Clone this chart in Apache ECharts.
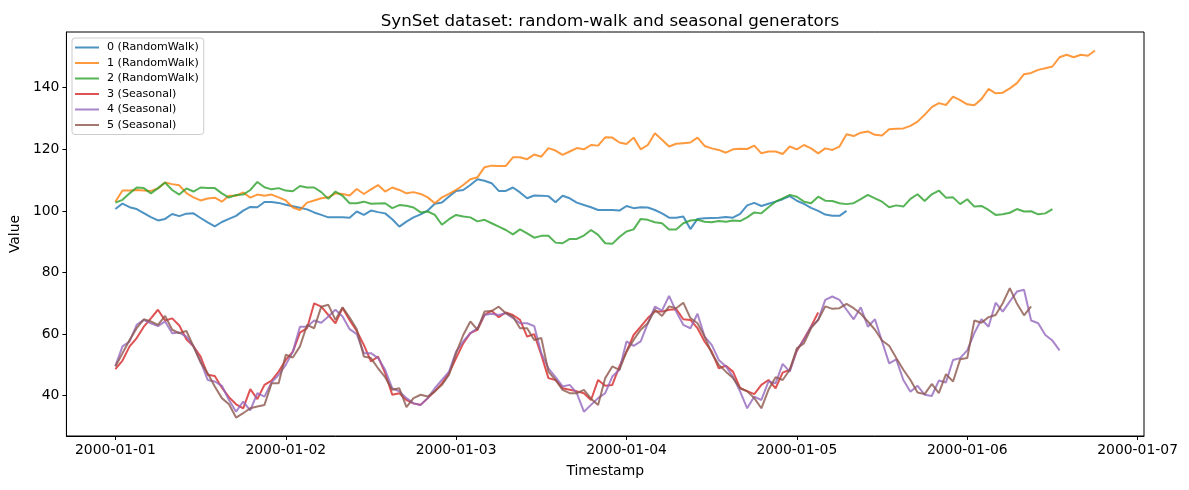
<!DOCTYPE html>
<html>
<head>
<meta charset="utf-8">
<script src="https://cdn.jsdelivr.net/npm/echarts@6/dist/echarts.min.js"></script>
<style>
  html, body { margin: 0; padding: 0; background: #fff; }
  #chart { width: 1189px; height: 490px; }
</style>
</head>
<body>
<div id="chart"></div>
<script>
// ===== Data (hourly samples from 2000-01-01 00:00, x = hour index) =====
const dayTicks = [0, 24, 48, 72, 96, 120, 144];
const dayLabels = ['2000-01-01', '2000-01-02', '2000-01-03', '2000-01-04', '2000-01-05', '2000-01-06', '2000-01-07'];
const yTicks = [40, 60, 80, 100, 120, 140];

const seriesNames = ['0 (RandomWalk)', '1 (RandomWalk)', '2 (RandomWalk)', '3 (Seasonal)', '4 (Seasonal)', '5 (Seasonal)'];
const colors = ['#1f77b4', '#ff7f0e', '#2ca02c', '#d62728', '#9467bd', '#8c564b'];

const walk0 = [100.6,102.4,101.2,100.6,99.3,98.0,96.9,97.4,99.0,98.3,
  99.1,99.2,97.7,96.3,95.0,96.4,97.4,98.4,100.1,101.3,
  101.2,102.9,102.9,102.6,102.0,101.5,101.0,100.5,99.5,98.7,
  97.9,97.9,97.9,97.8,99.8,98.7,100.1,99.6,99.2,97.3,
  94.9,96.5,97.9,98.9,100.1,102.3,102.7,104.7,106.5,106.8,
  108.4,110.3,109.8,109.0,106.5,106.5,107.6,106.0,104.1,105.0,
  104.9,104.8,102.8,104.9,104.1,102.7,101.9,101.2,100.3,100.3,
  100.3,100.1,101.6,100.9,101.2,101.1,100.3,99.2,97.8,97.8,
  98.2,94.1,97.4,97.6,97.7,97.8,98.0,97.8,99.0,101.8,
  102.6,101.6,102.3,103.0,103.8,104.8,103.3,102.3,101.0,100.0,
  98.8,98.4,98.4,100.0];

const walk1 = [103.0,106.6,106.6,106.8,106.6,106.5,107.3,109.2,108.7,108.3,
  105.8,104.4,103.4,104.0,104.3,103.0,104.9,104.9,106.0,104.3,
  105.3,104.9,105.3,104.4,103.4,101.1,100.3,102.7,103.4,104.1,
  104.4,105.7,105.5,105.0,107.1,105.5,107.0,108.4,106.3,107.6,
  106.8,105.7,106.1,105.5,104.4,102.5,104.4,105.5,106.8,108.4,
  110.3,110.9,114.2,114.7,114.6,114.6,117.4,117.4,116.8,118.3,
  117.6,120.4,119.6,118.2,119.3,120.4,120.0,121.4,121.2,123.9,
  123.8,122.2,121.7,123.8,120.0,121.4,125.2,123.1,120.9,121.8,
  122.0,122.2,123.8,121.1,120.3,119.8,118.9,120.0,120.2,120.1,
  121.2,118.7,119.3,119.3,118.5,120.9,120.0,121.4,120.3,118.7,
  120.3,119.8,120.9,124.9,124.3,125.4,125.8,124.7,124.5,126.5,
  126.7,126.8,127.6,129.0,131.2,133.7,135.0,134.4,137.1,136.0,
  134.6,134.3,136.3,139.6,138.2,138.4,139.8,141.5,144.4,144.8,
  145.8,146.3,146.9,149.9,150.7,149.9,150.7,150.4,152.1];

const walk2 = [102.7,103.6,105.7,107.6,107.4,105.7,107.4,109.2,106.8,105.3,
  107.3,106.3,107.6,107.4,107.4,105.7,104.3,105.2,105.3,106.8,
  109.4,107.7,107.0,107.4,106.6,106.4,108.1,107.6,107.6,106.1,
  103.9,106.3,104.9,102.5,102.5,103.0,102.3,102.4,102.5,100.9,
  101.9,101.7,101.1,99.5,99.8,98.7,95.5,97.3,98.7,98.2,
  97.9,96.6,97.1,96.0,94.9,93.8,92.4,94.0,92.7,91.3,
  91.9,91.9,89.7,89.5,90.9,90.9,92.0,93.8,92.2,89.5,
  89.3,91.5,93.3,94.0,97.4,97.1,96.3,96.0,94.0,94.0,
  96.0,96.9,97.1,96.5,96.3,96.7,96.5,96.9,96.7,97.9,
  99.5,99.2,101.2,103.0,104.1,105.2,104.6,103.0,102.5,104.6,
  103.3,103.2,102.5,102.2,102.5,103.8,105.2,104.1,103.0,101.2,
  101.8,101.4,103.9,105.4,103.2,105.4,106.6,104.3,104.4,102.2,
  103.8,101.4,101.6,100.3,98.7,98.9,99.4,100.6,99.8,99.9,
  98.9,99.2,100.6];

const seasonal3 = [48.6,51.4,56.0,58.7,62.4,65.1,67.9,64.4,65.1,62.8,
  58.3,56.0,52.7,46.8,46.4,42.6,39.5,37.2,35.9,42.1,
  38.9,43.5,44.9,47.8,51.6,54.3,60.5,61.9,70.0,68.9,
  66.2,63.5,68.5,64.5,61.0,56.5,51.1,52.7,47.3,40.3,
  40.8,38.6,37.5,37.0,39.2,41.4,44.0,47.3,52.2,57.0,
  60.3,61.4,66.2,67.6,65.5,67.0,66.2,64.6,59.2,60.0,
  53.2,45.7,45.1,42.4,41.9,41.4,40.8,38.6,45.1,43.2,
  43.5,49.5,54.3,59.7,62.4,65.2,67.3,67.3,67.9,68.1,
  64.8,64.6,61.9,57.6,54.3,48.9,49.7,47.8,42.5,41.5,
  40.5,43.5,45.1,42.4,47.5,48.4,54.5,58.5,62.5,67.0];

const seasonal4 = [49.7,56.0,57.6,63.0,64.6,63.5,62.6,64.1,60.3,60.5,
  59.2,56.0,51.1,45.1,44.6,43.2,38.6,34.8,38.1,35.2,
  40.8,39.7,44.3,46.8,50.0,54.3,62.4,62.4,64.4,63.7,
  65.7,67.9,65.7,61.6,60.0,53.8,53.8,52.2,48.4,42.4,
  41.4,39.2,37.5,37.0,39.2,42.4,45.1,47.8,54.3,57.6,
  60.3,61.9,66.2,66.6,66.2,66.8,65.2,63.5,63.5,62.6,
  53.8,48.9,46.0,43.0,43.5,40.8,34.8,37.0,39.2,40.8,
  46.2,48.4,57.6,56.2,57.6,63.5,68.9,67.6,72.4,67.3,
  63.0,61.9,66.6,59.2,56.5,51.6,49.5,46.2,41.4,35.9,
  39.7,38.6,44.6,44.0,50.3,47.8,54.9,58.1,62.4,64.6,
  71.1,72.2,71.1,67.9,64.8,68.7,62.4,64.8,57.6,50.5,
  51.8,45.1,41.3,43.2,40.3,39.9,44.9,44.3,51.6,52.2,
  54.7,60.3,64.8,62.4,70.2,67.3,70.6,73.8,74.4,64.4,
  63.5,59.7,57.9,54.7];

const seasonal5 = [49.5,53.8,58.1,61.9,64.8,64.1,63.0,65.9,61.4,60.3,
  61.0,56.0,50.8,47.3,43.0,39.2,37.2,32.9,34.3,35.9,
  36.5,37.0,44.0,44.0,53.3,52.4,56.0,63.0,61.9,68.9,
  69.5,64.6,68.7,65.4,61.6,52.7,52.2,48.9,46.0,41.9,
  42.4,36.3,39.2,40.3,39.7,41.4,43.5,46.8,53.8,59.7,
  64.1,61.4,67.3,67.5,68.9,66.8,65.7,61.9,61.9,58.1,
  58.7,47.8,45.1,41.9,40.8,40.8,41.9,39.0,37.0,45.7,
  49.5,48.4,54.3,58.1,61.4,63.5,67.9,65.9,69.0,68.4,
  70.2,65.2,63.5,59.2,53.8,50.0,47.8,45.7,42.4,41.4,
  39.2,35.9,41.9,46.0,45.1,48.4,55.4,57.0,61.9,64.6,
  69.0,68.2,68.4,69.8,68.4,66.6,64.1,61.4,57.9,56.2,
  52.2,48.4,45.1,41.0,40.5,43.8,40.8,47.0,44.6,51.8,
  52.2,64.4,63.7,65.5,66.2,70.0,74.9,69.9,66.1,69.0];

const allValues = [walk0, walk1, walk2, seasonal3, seasonal4, seasonal5];

// ===== Chart =====
const FONT = 'DejaVu Sans';
const chart = echarts.init(document.getElementById('chart'));

const series = allValues.map((vals, k) => ({
  name: seriesNames[k],
  type: 'line',
  symbol: 'none',
  data: vals.map((v, i) => [i, v]),
  lineStyle: { width: 2, color: colors[k], opacity: 0.8 },
  itemStyle: { color: colors[k], opacity: 0.8 },
  z: 2 + k
}));

chart.setOption({
  animation: false,
  backgroundColor: '#fff',
  title: {
    text: 'SynSet dataset: random-walk and seasonal generators',
    left: 605,
    top: 8,
    textAlign: 'center',
    textStyle: { fontFamily: FONT, fontSize: 16.7, fontWeight: 'normal', color: '#000' }
  },
  legend: {
    orient: 'vertical',
    left: 72,
    top: 38,
    icon: 'rect',
    itemWidth: 24,
    itemHeight: 2,
    itemGap: 4.5,
    padding: [4, 5, 4, 3],
    backgroundColor: 'rgba(255,255,255,0.8)',
    borderColor: '#cccccc',
    borderWidth: 1,
    borderRadius: 3,
    textStyle: { fontFamily: FONT, fontSize: 11.1, lineHeight: 11, color: '#000', padding: [0, 0, 0, 3] },
    data: seriesNames
  },
  grid: {
    left: 66,
    right: 45,
    top: 32,
    bottom: 54,
    show: true,
    borderColor: '#000',
    borderWidth: 1,
    backgroundColor: 'transparent'
  },
  xAxis: {
    type: 'value',
    min: -6.9,
    max: 144.9,
    name: 'Timestamp',
    nameLocation: 'middle',
    nameGap: 28,
    nameTextStyle: { fontFamily: FONT, fontSize: 13.9, color: '#000', verticalAlign: 'top' },
    axisLine: { show: true, onZero: false, lineStyle: { color: '#000', width: 1 } },
    axisTick: { show: true, length: 4, customValues: dayTicks, lineStyle: { color: '#000' } },
    axisLabel: {
      customValues: dayTicks,
      margin: 7,
      fontFamily: FONT,
      fontSize: 13.9,
      color: '#000',
      formatter: v => dayLabels[dayTicks.indexOf(v)]
    },
    splitLine: { show: false }
  },
  yAxis: {
    type: 'value',
    min: 26.9,
    max: 158.1,
    name: 'Value',
    nameLocation: 'middle',
    nameGap: 43,
    nameTextStyle: { fontFamily: FONT, fontSize: 13.9, color: '#000' },
    axisLine: { show: true, onZero: false, lineStyle: { color: '#000', width: 1 } },
    axisTick: { show: true, length: 4, customValues: yTicks, lineStyle: { color: '#000' } },
    axisLabel: {
      customValues: yTicks,
      margin: 7,
      fontFamily: FONT,
      fontSize: 13.9,
      color: '#000'
    },
    splitLine: { show: false }
  },
  series: series
});
</script>
</body>
</html>
